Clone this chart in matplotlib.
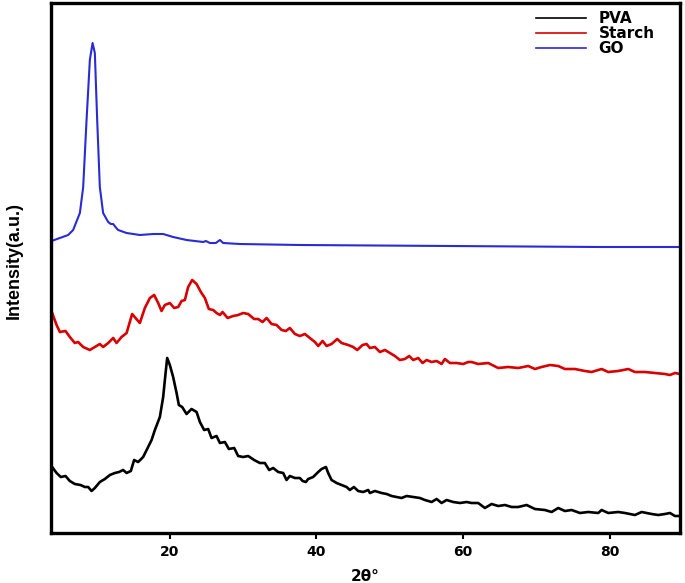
import numpy as np
import matplotlib
matplotlib.use("Agg")
import matplotlib.pyplot as plt
from matplotlib.lines import Line2D

# XRD patterns (2theta in degrees, intensity in a.u.)
pva_2theta = [3.96, 4.56, 5.14, 5.78, 6.37, 7.05, 7.82, 8.42, 8.87, 9.33, 9.78, 10.46, 11.15, 11.83,
              12.51, 13.08, 13.64, 14.11, 14.69, 15.14, 15.69, 16.37, 17.05, 17.52, 17.97, 18.65,
              19.10, 19.43, 19.65, 20.01, 20.46, 20.93, 21.24, 21.69, 22.29, 22.97, 23.66, 24.11,
              24.69, 25.24, 25.70, 26.38, 26.84, 27.52, 28.06, 28.79, 29.33, 30.01, 30.70, 31.51,
              32.29, 32.97, 33.56, 34.11, 34.79, 35.47, 35.93, 36.38, 37.07, 37.75, 38.12, 38.57,
              38.88, 39.56, 40.25, 40.71, 41.30, 41.61, 42.07, 42.76, 43.44, 44.12, 44.57, 45.12,
              45.70, 46.38, 47.07, 47.30, 47.98, 48.89, 49.58, 50.26, 50.94, 51.62, 52.31, 53.21,
              54.12, 54.80, 55.72, 56.40, 57.08, 57.76, 58.66, 59.58, 60.49, 61.17, 62.07, 62.99,
              63.90, 64.80, 65.72, 66.63, 67.53, 68.68, 69.81, 71.17, 72.09, 72.99, 73.90, 74.82,
              75.95, 77.08, 78.45, 78.91, 79.81, 81.17, 82.09, 83.45, 84.37, 85.73, 86.63, 87.55,
              88.23, 88.91, 89.59]
pva_int = [73, 67, 63, 64, 59, 56, 55, 53, 53, 49, 52, 58, 61, 65,
           67, 68, 70, 67, 69, 80, 78, 83, 93, 100, 110, 123,
           143, 167, 182, 175, 163, 147, 135, 133, 126, 131, 128, 118,
           110, 111, 102, 104, 97, 98, 91, 92, 84, 83, 84, 80,
           77, 77, 70, 72, 68, 67, 60, 64, 62, 62, 59, 58,
           61, 63, 68, 71, 73, 67, 60, 57, 55, 53, 50, 53,
           49, 48, 50, 47, 49, 47, 46, 44, 43, 42, 44, 43,
           42, 40, 38, 41, 37, 40, 38, 37, 38, 37, 37, 32,
           36, 34, 35, 33, 33, 35, 31, 30, 28, 32, 29, 30,
           27, 28, 27, 30, 27, 28, 27, 25, 28, 26, 25, 26,
           27, 24, 24]

starch_2theta = [3.96, 4.56, 5.01, 5.78, 6.37, 7.05, 7.50, 8.19, 9.10, 9.78, 10.46, 10.91, 11.60,
                 12.28, 12.74, 13.42, 14.11, 14.87, 15.33, 15.92, 16.60, 17.29, 17.87, 18.42,
                 18.88, 19.33, 20.01, 20.60, 21.15, 21.61, 22.06, 22.51, 23.06, 23.66, 24.24,
                 24.79, 25.33, 25.92, 26.38, 26.84, 27.20, 27.89, 28.65, 29.33, 30.01, 30.70,
                 31.51, 32.06, 32.66, 33.21, 33.89, 34.57, 35.25, 35.84, 36.38, 37.07, 37.75,
                 38.43, 39.11, 39.80, 40.25, 40.85, 41.39, 42.07, 42.84, 43.44, 44.34, 45.02,
                 45.57, 46.30, 46.85, 47.30, 47.98, 48.66, 49.35, 50.03, 50.71, 51.39, 52.07,
                 52.66, 53.21, 53.89, 54.49, 55.03, 55.72, 56.40, 57.08, 57.53, 58.21, 59.13,
                 60.03, 60.71, 61.17, 62.07, 63.44, 64.80, 66.17, 67.53, 68.90, 69.81, 70.72,
                 71.86, 72.99, 73.90, 75.27, 76.63, 77.54, 78.91, 79.81, 81.17, 82.54, 83.45,
                 84.82, 86.18, 87.55, 88.23, 88.91, 89.59]
starch_int = [227, 215, 208, 209, 203, 197, 198, 193, 190, 193, 196, 193, 197,
              202, 197, 203, 207, 226, 222, 217, 232, 242, 245, 237,
              229, 235, 237, 232, 233, 239, 240, 253, 260, 256, 248,
              242, 231, 230, 227, 225, 228, 222, 224, 225, 227, 226,
              221, 221, 218, 222, 216, 215, 210, 209, 212, 206, 204,
              206, 202, 198, 194, 199, 194, 196, 201, 197, 195, 193,
              190, 195, 196, 192, 193, 188, 190, 187, 184, 180, 181,
              184, 180, 182, 177, 180, 178, 179, 176, 181, 177, 177,
              176, 178, 178, 176, 177, 172, 173, 172, 174, 171, 173,
              175, 174, 171, 171, 169, 168, 171, 168, 169, 171, 168,
              168, 167, 166, 165, 167, 166]

go_2theta = [3.87, 5.01, 6.14, 6.82, 7.74, 8.19, 8.65, 9.10, 9.47, 9.78, 10.10, 10.46, 10.91,
             11.60, 11.96, 12.28, 12.70, 12.96, 14.11, 15.92, 17.74, 19.10, 20.46, 22.29,
             24.56, 24.93, 25.47, 26.29, 26.84, 27.29, 29.56, 37.75, 58.21, 78.67, 89.59]
go_int = [299, 302, 305, 310, 327, 353, 420, 480, 497, 487, 420, 353, 327,
          318, 316, 316, 312, 310, 307, 305, 306, 306, 303, 300,
          298, 299, 297, 297, 300, 297, 296, 295, 294, 293, 293]

labels = ["PVA", "Starch", "GO"]
colors = ["black", "#d80000", "#2a2ad6"]
x_ticks = [20, 40, 60, 80]

fig = plt.figure(figsize=(6.85, 5.83), dpi=100)
ax = fig.add_axes([51 / 685, 1 - 533 / 583, 629 / 685, 530 / 583])

ax.plot(pva_2theta, pva_int, color=colors[0], lw=1.9)
ax.plot(starch_2theta, starch_int, color=colors[1], lw=1.9)
ax.plot(go_2theta, go_int, color=colors[2], lw=1.5)

ax.set_xlim(3.8, 89.6)
ax.set_ylim(7, 537)
ax.set_xticks(x_ticks)
ax.set_yticks([])
ax.tick_params(axis="x", direction="out", length=4, width=1.5, pad=5)
for lab in ax.get_xticklabels():
    lab.set_fontfamily("DejaVu Sans")
    lab.set_fontweight("bold")
    lab.set_fontsize(10)
for sp in ax.spines.values():
    sp.set_linewidth(2.4)

ax.set_xlabel("2θ°", fontfamily="DejaVu Sans", fontweight="bold", fontsize=11, labelpad=7)
ax.set_ylabel("Intensity(a.u.)", fontfamily="Liberation Sans", fontweight="bold", fontsize=13)
ax.yaxis.set_label_coords(-0.045, 0.515)

handles = [Line2D([], [], color=c, lw=1.2) for c in colors]
ax.legend(handles, labels, loc="upper right", bbox_to_anchor=(0.96, 0.985), frameon=False,
          borderpad=0, borderaxespad=0, labelspacing=0, handlelength=3.3, handletextpad=0.8,
          prop={"family": "DejaVu Sans", "weight": "bold", "size": 11})

fig.savefig("out.png", dpi=100)
